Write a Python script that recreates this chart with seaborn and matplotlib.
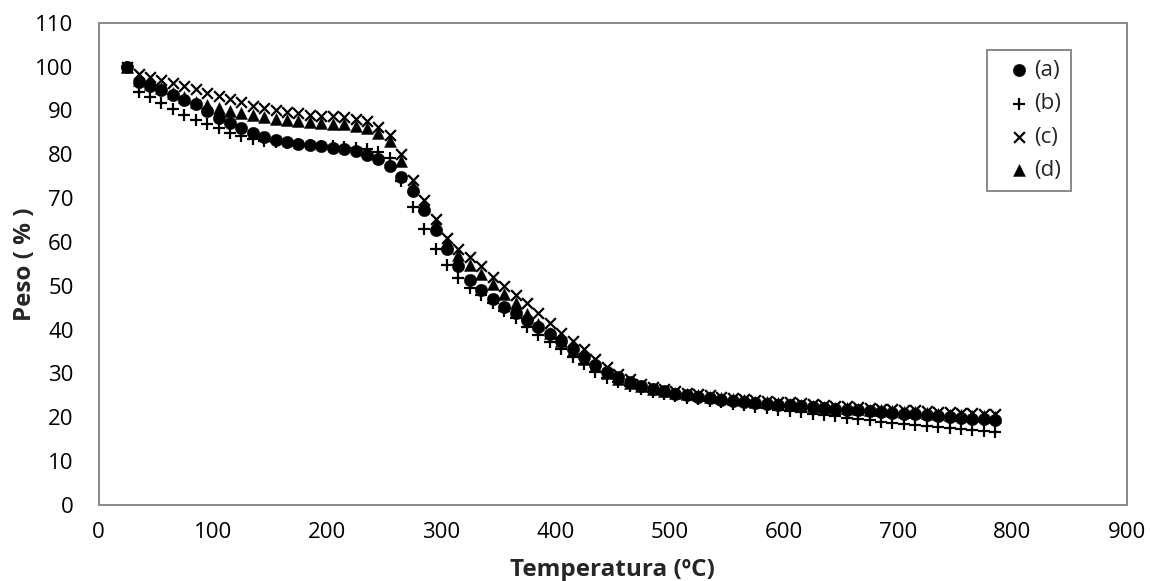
import seaborn as sns
import matplotlib.pyplot as plt

# Temperatura (ºC)
temperatura = [25, 35, 45, 55, 65, 75, 85, 95, 105, 115,
               125, 135, 145, 155, 165, 175, 185, 195, 205, 215,
               225, 235, 245, 255, 265, 275, 285, 295, 305, 315,
               325, 335, 345, 355, 365, 375, 385, 395, 405, 415,
               425, 435, 445, 455, 465, 475, 485, 495, 505, 515,
               525, 535, 545, 555, 565, 575, 585, 595, 605, 615,
               625, 635, 645, 655, 665, 675, 685, 695, 705, 715,
               725, 735, 745, 755, 765, 775, 785]

# Peso (%) de cada amostra
peso_a = [100, 96.4, 95.6, 94.7, 93.5, 92.4, 91.4, 89.8, 88.3, 87.2,
          86.0, 84.9, 83.9, 83.2, 82.7, 82.3, 82.0, 81.8, 81.5, 81.1,
          80.7, 79.9, 78.9, 77.3, 74.7, 71.6, 67.2, 62.8, 58.4, 54.6,
          51.2, 49.0, 46.9, 45.2, 43.7, 42.2, 40.5, 39.0, 37.4, 35.6,
          33.7, 31.9, 30.4, 29.2, 28.1, 27.2, 26.5, 25.9, 25.4, 25.0,
          24.6, 24.3, 24.0, 23.8, 23.5, 23.3, 23.1, 22.9, 22.7, 22.5,
          22.3, 22.1, 21.9, 21.7, 21.6, 21.4, 21.2, 21.0, 20.8, 20.7,
          20.5, 20.3, 20.1, 19.9, 19.7, 19.5, 19.3]

peso_b = [100, 94.3, 93.0, 91.6, 90.2, 88.9, 87.8, 86.9, 85.9, 84.9,
          84.1, 83.4, 83.0, 82.7, 82.5, 82.3, 82.1, 81.9, 81.8, 81.6,
          81.5, 81.2, 80.6, 79.2, 74.0, 68.0, 63.0, 58.4, 54.7, 51.8,
          49.6, 47.8, 46.0, 44.3, 42.6, 40.6, 38.8, 37.2, 35.5, 33.8,
          32.1, 30.4, 29.0, 28.0, 27.1, 26.4, 25.8, 25.3, 24.9, 24.5,
          24.1, 23.8, 23.4, 23.1, 22.8, 22.4, 22.1, 21.7, 21.4, 21.1,
          20.8, 20.5, 20.2, 19.9, 19.6, 19.3, 19.0, 18.8, 18.5, 18.3,
          18.0, 17.8, 17.6, 17.3, 17.1, 16.9, 16.7]

peso_c = [100, 98.4, 97.7, 97.0, 96.3, 95.6, 94.8, 94.0, 93.3, 92.5,
          91.8, 91.1, 90.5, 90.0, 89.6, 89.3, 89.0, 88.8, 88.6, 88.4,
          88.1, 87.5, 86.3, 84.4, 80.0, 74.1, 69.5, 65.2, 60.8, 58.4,
          56.5, 54.4, 52.0, 49.9, 48.0, 46.0, 43.9, 41.4, 39.3, 37.5,
          35.5, 33.4, 31.4, 29.9, 28.7, 27.7, 27.0, 26.4, 26.0, 25.6,
          25.3, 25.0, 24.7, 24.5, 24.2, 24.0, 23.8, 23.6, 23.4, 23.2,
          23.0, 22.8, 22.6, 22.5, 22.3, 22.2, 22.0, 21.9, 21.7, 21.6,
          21.4, 21.3, 21.2, 21.0, 20.9, 20.8, 20.7]

peso_d = [100, 97.0, 96.0, 95.0, 94.0, 93.0, 92.0, 91.2, 90.5, 89.9,
          89.3, 88.9, 88.5, 88.1, 87.8, 87.6, 87.4, 87.2, 87.0, 86.8,
          86.5, 86.0, 84.8, 82.9, 78.4, 72.8, 68.3, 64.0, 60.0, 57.0,
          54.8, 52.6, 50.4, 48.2, 46.0, 43.5, 41.3, 39.3, 37.3, 35.4,
          33.4, 31.6, 30.0, 28.8, 27.9, 27.1, 26.5, 26.0, 25.6, 25.3,
          25.0, 24.7, 24.4, 24.1, 23.9, 23.6, 23.4, 23.2, 23.0, 22.8,
          22.6, 22.4, 22.2, 22.1, 21.9, 21.7, 21.6, 21.4, 21.2, 21.1,
          20.9, 20.8, 20.6, 20.5, 20.3, 20.2, 20.0]

rotulos = ['(a)', '(b)', '(c)', '(d)']

sns.set_style('white')
plt.rcParams['font.family'] = ['Open Sans', 'DejaVu Sans']

cinza = '#898989'

fig, ax = plt.subplots(figsize=(11.5, 5.81), dpi=100)
fig.subplots_adjust(left=0.0857, right=0.9797, bottom=0.1308, top=0.961)

# circulos e triangulos cheios, + e x so linha
sns.scatterplot(x=temperatura, y=peso_a, marker='o', s=80, color='black',
                edgecolor='black', linewidth=0.3, label=rotulos[0], ax=ax)
sns.scatterplot(x=temperatura, y=peso_b, marker='+', s=85, color='black',
                linewidth=1.6, label=rotulos[1], ax=ax)
sns.scatterplot(x=temperatura, y=peso_c, marker='x', s=60, color='black',
                linewidth=1.6, label=rotulos[2], ax=ax)
sns.scatterplot(x=temperatura, y=peso_d, marker='^', s=75, color='black',
                edgecolor='black', linewidth=0.3, label=rotulos[3], ax=ax)

ax.set_xlim(0, 900)
ax.set_ylim(0, 110)
ax.set_xticks(range(0, 901, 100))
ax.set_yticks(range(0, 111, 10))

ax.set_xlabel('Temperatura (ºC)', fontsize=17.5, fontweight='bold', labelpad=11)
ax.set_ylabel('Peso ( % )', fontsize=17.5, fontweight='bold', labelpad=-1)

for sp in ax.spines.values():
    sp.set_color(cinza)
    sp.set_linewidth(1.4)
ax.tick_params(axis='both', direction='in', length=6, width=1.2, color=cinza,
               labelsize=16, labelcolor='black')
ax.tick_params(axis='x', pad=12)
ax.tick_params(axis='y', pad=18)

leg = ax.legend(loc='upper left', bbox_to_anchor=(0.864, 0.943), fontsize=16,
                frameon=True, fancybox=False, framealpha=1, edgecolor=cinza,
                handlelength=2.0, handletextpad=-0.3, labelspacing=0.55,
                borderpad=0.45, borderaxespad=0)
leg.get_frame().set_linewidth(1.4)

fig.savefig('out.png', dpi=100)
